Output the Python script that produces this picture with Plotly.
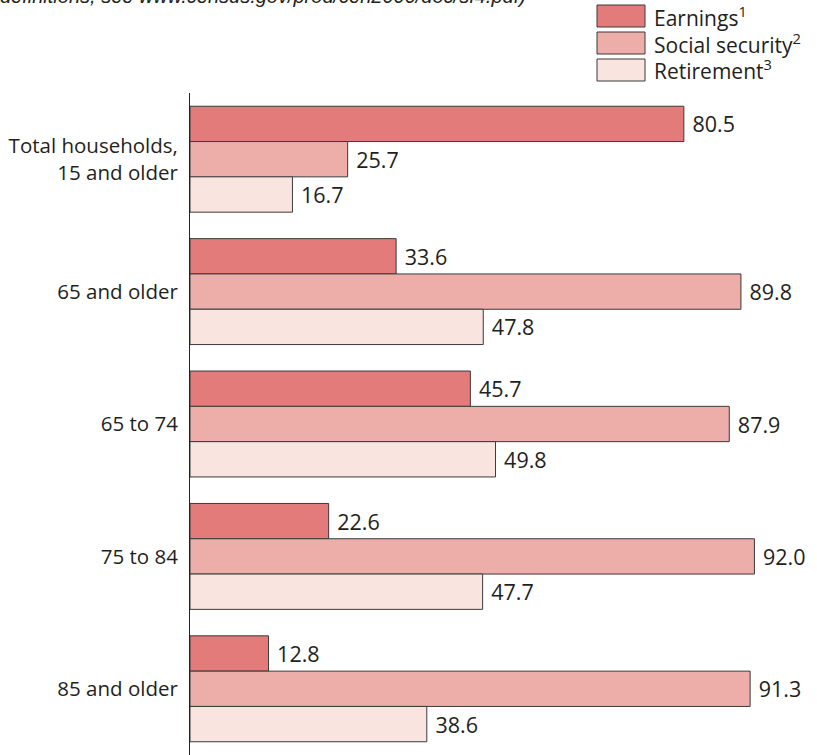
import plotly.graph_objects as go

categories = ["Total households,<br>15 and older", "65 and older", "65 to 74", "75 to 84", "85 and older"]
series_names = ["Earnings", "Social security", "Retirement"]
legend_labels = ["Earnings<sup>1</sup>", "Social security<sup>2</sup>", "Retirement<sup>3</sup>"]
earnings = [80.5, 33.6, 45.7, 22.6, 12.8]
social_security = [25.7, 89.8, 87.9, 92.0, 91.3]
retirement = [16.7, 47.8, 49.8, 47.7, 38.6]
colors = ["#E37B7B", "#EDAEAA", "#F9E4E0"]

W, H = 817, 755
ML, MR, MT, MB = 190, 0, 93, 0
PW, PH = W - ML - MR, H - MT - MB
FONT = "Open Sans"
TXT = "#231f20"


def px_x(x):
    return (x - ML) / PW


def px_y(y):
    return 1 - (y - MT) / PH


fig = go.Figure()
for name, vals, col in zip(series_names, [earnings, social_security, retirement], colors):
    fig.add_trace(go.Bar(
        y=categories, x=vals, orientation="h", name=name,
        marker=dict(color=col, line=dict(color="#3a3a3a", width=1)),
        text=["\u00a0" + f"{v:.1f}" for v in vals],
        textposition="outside", cliponaxis=False,
        textfont=dict(family=FONT, size=21.5, color=TXT),
        showlegend=False, hoverinfo="skip",
    ))

shapes = []
annotations = []
leg_y = [16, 43, 70]
for lab, col, yc in zip(legend_labels, colors, leg_y):
    shapes.append(dict(type="rect", xref="paper", yref="paper",
                       x0=px_x(597), x1=px_x(645), y0=px_y(yc - 11), y1=px_y(yc + 11),
                       fillcolor=col, line=dict(color="#3a3a3a", width=1)))
    annotations.append(dict(xref="paper", yref="paper", x=px_x(652), y=px_y(yc),
                            xanchor="left", yanchor="middle", showarrow=False,
                            text=lab, font=dict(family=FONT, size=21, color=TXT)))

annotations.append(dict(xref="paper", yref="paper", x=px_x(-2), y=px_y(-4),
                        xanchor="left", yanchor="middle", showarrow=False,
                        text="<i>definitions, see www.census.gov/prod/cen2000/doc/sf4.pdf)</i>",
                        font=dict(family="Liberation Sans", size=20, color=TXT)))

fig.update_layout(
    width=W, height=H,
    margin=dict(l=ML, r=MR, t=MT, b=MB, pad=0),
    paper_bgcolor="white", plot_bgcolor="white",
    barmode="group", bargap=0.2, bargroupgap=0,
    font=dict(family=FONT, size=20.5, color=TXT),
    shapes=shapes, annotations=annotations,
    xaxis=dict(range=[0, 102.2], visible=False, showgrid=False, zeroline=False),
    yaxis=dict(range=[4.5, -0.5], showline=True, linecolor="#222", linewidth=1,
               showgrid=False, zeroline=False, ticks="", ticklabelstandoff=7,
               tickfont=dict(family=FONT, size=20.5, color=TXT)),
)

fig.write_html("out.html", config={"displayModeBar": False},
               post_script="document.body.style.margin='0';")
